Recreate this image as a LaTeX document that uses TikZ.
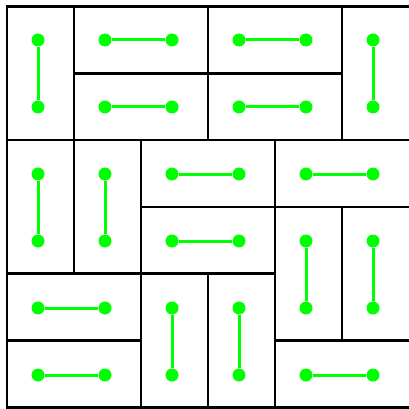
\documentclass[tikz,border=0pt]{standalone}
\begin{document}
\begin{tikzpicture}[x=1pt,y=-1pt,
  tile/.style={draw=black,line width=2.7pt},
  dot/.style={circle,fill=green,inner sep=0pt,minimum size=13pt},
  link/.style={draw=green,line width=3pt}]
\useasboundingbox (0,0) rectangle (409,409);
\foreach \a/\b/\c/\d [count=\i] in {0/0/0/1, 1/0/2/0, 3/0/4/0, 5/0/5/1, 1/1/2/1, 3/1/4/1,
  0/2/0/3, 1/2/1/3, 2/2/3/2, 4/2/5/2, 2/3/3/3, 4/3/4/4, 5/3/5/4,
  0/4/1/4, 2/4/2/5, 3/4/3/5, 0/5/1/5, 4/5/5/5} {
  \draw[tile] ({7+67*\a},{6.5+66.8*\b}) rectangle ({ifthenelse(\c==5,412,7+67*(\c+1))},{6.5+66.8*(\d+1)});
  \node[dot] (p\i) at ({38+67*\a},{40+67*\b}) {};
  \node[dot] (q\i) at ({38+67*\c},{40+67*\d}) {};
  \draw[link] (p\i) -- (q\i);
}
\end{tikzpicture}
\end{document}
